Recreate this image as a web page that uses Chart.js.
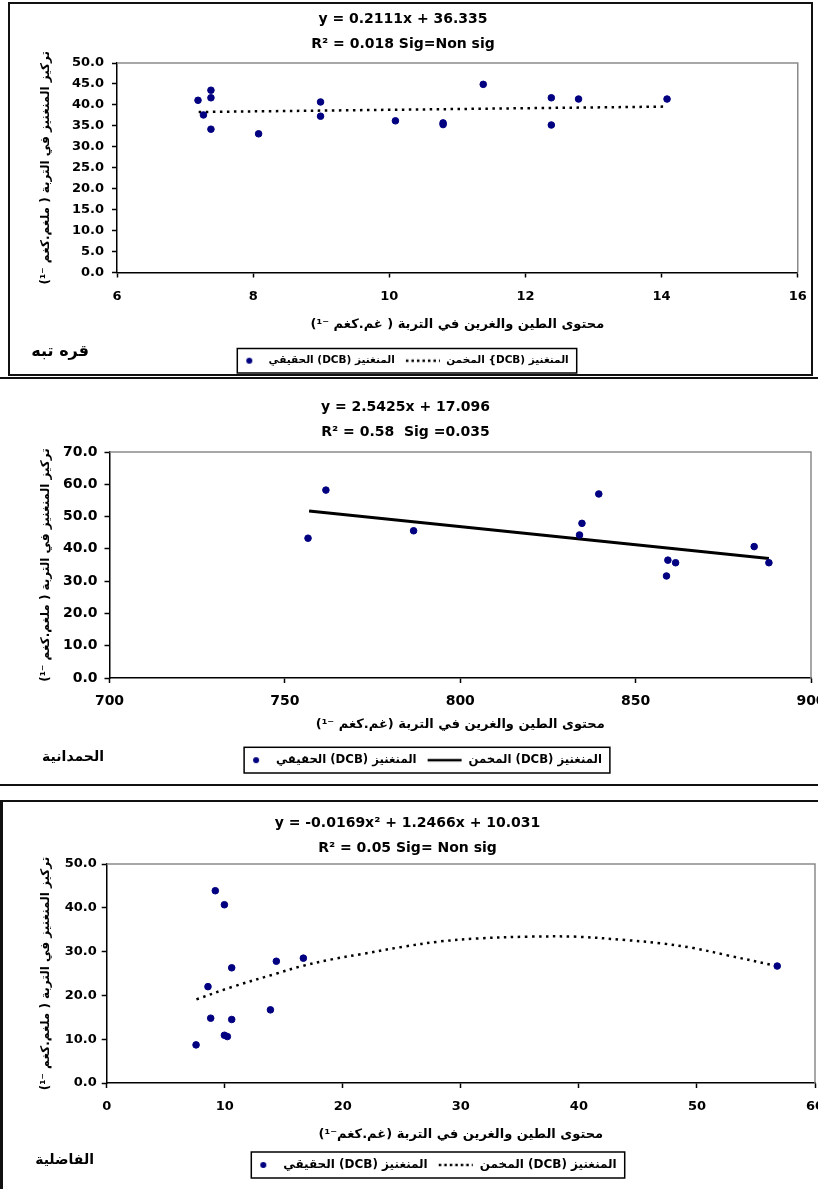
<!DOCTYPE html>
<html>
<head>
<meta charset="utf-8">
<script src="https://cdn.jsdelivr.net/npm/chart.js@4.4.0/dist/chart.umd.min.js"></script>
<style>
    html, body { margin: 0; padding: 0; background: #fff; }
    body { position: relative; width: 818px; height: 1189px; overflow: hidden; }
    canvas { position: absolute; left: 0; direction: rtl; }
    .frame { position: absolute; box-sizing: border-box; pointer-events: none; }
</style>
</head>
<body>
<canvas id="c1" width="818" height="378" style="top:0"></canvas>
<canvas id="c2" width="840" height="404" style="top:380px"></canvas>
<canvas id="c3" width="840" height="387" style="top:802px"></canvas>

<div class="frame" style="left:8px;top:2px;width:805px;height:374px;border:2px solid #111"></div>
<div class="frame" style="left:0;top:377px;width:818px;height:2px;background:#111"></div>
<div class="frame" style="left:0;top:784px;width:818px;height:2px;background:#111"></div>
<div class="frame" style="left:0;top:800px;width:830px;height:420px;border-top:2px solid #111;border-left:3px solid #111"></div>

<script>
// ---- data ----
// Qara Tabba
const qaraClay = [7.19, 7.27, 7.38, 7.38, 7.38, 8.08, 8.99, 8.99, 10.09, 10.79, 10.79, 11.38, 12.38, 12.38, 12.78, 14.08];
const qaraMn = [41.1, 37.6, 43.5, 41.7, 34.2, 33.1, 40.7, 37.3, 36.2, 35.7, 35.3, 44.9, 41.7, 35.2, 41.4, 41.4];
const qaraFitX = [7.2, 14.08];
const qaraFitY = [38.3, 39.6];
const qaraXAxis = [6, 16, 2];
const qaraYAxis = [0, 50, 5];

// Hamdaniya
const hamClay = [756.6, 761.7, 786.7, 834.0, 834.7, 839.5, 858.8, 859.2, 861.4, 883.8, 888.0];
const hamMn = [43.3, 58.2, 45.6, 44.3, 47.9, 57.0, 31.6, 36.5, 35.7, 40.7, 35.7];
const hamFitX = [756.9, 888.0];
const hamFitY = [51.7, 37.0];
const hamXAxis = [700, 900, 50];
const hamYAxis = [0, 70, 10];

// Fadhiliya
const fadClay = [7.57, 8.58, 8.81, 9.2, 9.97, 9.97, 10.22, 10.59, 10.59, 13.87, 14.37, 16.66, 56.8];
const fadMn = [8.7, 22.0, 14.8, 43.9, 40.7, 10.9, 10.6, 26.3, 14.5, 16.7, 27.8, 28.5, 26.7];
const fadFitX = [7.6, 10.7, 14.4, 16.4, 19.2, 21.5, 25.1, 28.2, 31.4, 35.6, 39.8, 44.1, 46.9, 49.7, 52.5, 56.8];
const fadFitY = [19.1, 22.0, 25.0, 26.6, 28.3, 29.4, 31.1, 32.3, 33.0, 33.4, 33.4, 32.6, 31.9, 30.8, 29.2, 26.7];
const fadXAxis = [0, 60, 10];
const fadYAxis = [0, 50, 10];

// texts
const yTitle = 'تركيز المنغنيز في التربة ( ملغم.كغم ⁻¹)';
const actualLabel = 'المنغنيز (DCB) الحقيقي';
const fittedLabel = 'المنغنيز (DCB) المخمن';

const FONT = '"DejaVu Sans", sans-serif';
const NAVY = '#000080';
const MARK_W = 36;   // width of the legend marker
const DOT_AT = 22;   // where the dot sits inside it

function pairs(xs, ys) {
    return xs.map((x, i) => ({ x: x, y: ys[i] }));
}

// small canvases used as legend markers
function marker(kind) {
    const c = document.createElement('canvas');
    c.width = MARK_W;
    c.height = 8;
    const g = c.getContext('2d');
    if (kind === 'dot') {
        g.fillStyle = NAVY;
        g.beginPath();
        g.arc(DOT_AT, 4, 3, 0, Math.PI * 2);
        g.fill();
    } else {
        g.strokeStyle = '#000';
        g.lineWidth = 2.5;
        g.setLineDash(kind === 'solid' ? [] : [2.5, 3]);
        g.beginPath();
        g.moveTo(1, 4);
        g.lineTo(MARK_W - 1, 4);
        g.stroke();
    }
    return c;
}

// gray frame on top/right of the plot area
const framePlugin = {
    id: 'frame',
    beforeDatasetsDraw(chart) {
        const { ctx, chartArea: a } = chart;
        ctx.save();
        ctx.strokeStyle = '#8a8a8a';
        ctx.lineWidth = 1.5;
        ctx.beginPath();
        ctx.moveTo(a.left, a.top);
        ctx.lineTo(a.right, a.top);
        ctx.lineTo(a.right, a.bottom);
        ctx.stroke();
        ctx.restore();
    }
};

// where the legend row (and its box) falls
function legendBox(chart) {
    const lg = chart.legend;
    const pad = lg.options.labels.padding;
    const rowW = lg.lineWidths[0];
    const x0 = (lg.left + pad + lg.right - rowW) / 2;
    return { left: x0 + DOT_AT - 12, right: x0 + rowW - pad + 8, top: lg.top + pad - 7 };
}

// moves the legend sideways, then boxes it and writes the site name
const legendBoxPlugin = {
    id: 'legendBox',
    afterLayout(chart, args, opts) {
        const b = legendBox(chart);
        const dx = opts.center - (b.left + b.right) / 2;
        chart.legend.left += dx;
        chart.legend.right += dx;
    },
    afterDraw(chart, args, opts) {
        const b = legendBox(chart);
        const size = chart.legend.options.labels.font.size;
        const ctx = chart.ctx;
        ctx.save();
        ctx.strokeStyle = '#000';
        ctx.lineWidth = 1.5;
        ctx.strokeRect(b.left, b.top, b.right - b.left, size + 14);
        ctx.fillStyle = '#000';
        ctx.font = 'bold ' + opts.siteSize + 'px ' + FONT;
        ctx.textAlign = 'right';
        ctx.textBaseline = 'middle';
        ctx.fillText(opts.site, opts.siteX, b.top + 7 + size / 2 + opts.siteDy);
        ctx.restore();
    }
};

function makePanel(id, cfg) {
    const tickFont = { family: FONT, size: cfg.tickSize, weight: 'bold' };
    return new Chart(document.getElementById(id), {
        type: 'scatter',
        data: {
            datasets: [
                {
                    label: actualLabel,
                    data: pairs(cfg.xs, cfg.ys),
                    backgroundColor: NAVY,
                    borderColor: NAVY,
                    pointRadius: 3.3,
                    pointHoverRadius: 3.3,
                    legendMarker: marker('dot')
                },
                {
                    type: 'line',
                    label: cfg.fitLabel,
                    data: pairs(cfg.fitX, cfg.fitY),
                    borderColor: '#000',
                    borderWidth: cfg.dashed ? 2.5 : 3,
                    borderDash: cfg.dashed ? [2.5, 4.5] : [],
                    pointRadius: 0,
                    tension: 0.35,
                    fill: false,
                    legendMarker: marker(cfg.dashed ? 'dotted' : 'solid')
                }
            ]
        },
        options: {
            responsive: false,
            animation: false,
            layout: { padding: { left: 0, right: cfg.padRight, top: 0, bottom: cfg.padBottom } },
            plugins: {
                title: {
                    display: true,
                    text: cfg.title,
                    color: '#000',
                    font: { family: FONT, size: 14, weight: 'bold', lineHeight: 25 / 14 },
                    padding: { top: cfg.titleTop, bottom: cfg.titleBottom }
                },
                legend: {
                    position: 'bottom',
                    labels: {
                        usePointStyle: true,
                        pointStyleWidth: MARK_W,
                        padding: 10,
                        color: '#000',
                        font: { family: FONT, size: cfg.legendSize, weight: 'bold' },
                        generateLabels: chart => chart.data.datasets.map((ds, i) => ({
                            text: ds.label,
                            pointStyle: ds.legendMarker,
                            datasetIndex: i,
                            fontColor: '#000',
                            fillStyle: 'transparent',
                            strokeStyle: 'transparent',
                            lineWidth: 0,
                            hidden: false
                        }))
                    }
                },
                tooltip: { enabled: false },
                legendBox: { site: cfg.site, siteX: cfg.siteX, siteDy: cfg.siteDy, siteSize: cfg.siteSize, center: cfg.legendCenter }
            },
            scales: {
                x: {
                    type: 'linear',
                    min: cfg.xAxis[0],
                    max: cfg.xAxis[1],
                    ticks: { stepSize: cfg.xAxis[2], color: '#000', font: tickFont, padding: cfg.xTickPad, maxRotation: 0, autoSkip: false },
                    grid: { drawOnChartArea: false, tickLength: 5, color: '#000', tickWidth: 1.5 },
                    border: { color: '#000', width: 1.5 },
                    title: {
                        display: true,
                        text: cfg.xTitle,
                        color: '#000',
                        font: { family: FONT, size: 13, weight: 'bold' },
                        padding: { top: 4, bottom: cfg.xTitleBottom }
                    },
                    afterFit: s => { s.height = cfg.xHeight; }
                },
                y: {
                    min: cfg.yAxis[0],
                    max: cfg.yAxis[1],
                    ticks: { stepSize: cfg.yAxis[2], color: '#000', font: tickFont, padding: cfg.yTickPad, callback: v => v.toFixed(1) },
                    grid: { drawOnChartArea: false, tickLength: 5, color: '#000', tickWidth: 1.5 },
                    border: { color: '#000', width: 1.5 },
                    title: {
                        display: true,
                        text: yTitle,
                        color: '#000',
                        font: { family: FONT, size: 12, weight: 'bold' },
                        padding: { top: 38.8, bottom: 0 }
                    },
                    afterFit: s => { s.width = cfg.yWidth; }
                }
            }
        },
        plugins: [framePlugin, legendBoxPlugin]
    });
}

makePanel('c1', {
    xs: qaraClay, ys: qaraMn, fitX: qaraFitX, fitY: qaraFitY, xAxis: qaraXAxis, yAxis: qaraYAxis,
    title: ['y = 0.2111x + 36.335', 'R² = 0.018 Sig=Non sig'],
    xTitle: 'محتوى الطين والغرين في التربة ( غم.كغم ⁻¹)',
    fitLabel: 'المنغنيز (DCB} المخمن',
    site: 'قره تبه', siteX: 89, siteDy: -9, siteSize: 16,
    legendSize: 10.5, legendCenter: 407,
    dashed: true, tickSize: 13,
    padRight: 12, padBottom: 2, titleTop: 7, titleBottom: 6,
    xHeight: 73, xTickPad: 11.2, xTitleBottom: 13.2, yWidth: 117, yTickPad: 8
});

makePanel('c2', {
    xs: hamClay, ys: hamMn, fitX: hamFitX, fitY: hamFitY, xAxis: hamXAxis, yAxis: hamYAxis,
    title: ['y = 2.5425x + 17.096', 'R² = 0.58  Sig =0.035'],
    xTitle: 'محتوى الطين والغرين في التربة (غم.كغم ⁻¹)',
    fitLabel: fittedLabel,
    site: 'الحمدانية', siteX: 104, siteDy: -3, siteSize: 14,
    legendSize: 11.7, legendCenter: 427,
    dashed: false, tickSize: 14,
    padRight: 29, padBottom: 8, titleTop: 15, titleBottom: 7,
    xHeight: 66.3, xTickPad: 10, xTitleBottom: 11.5, yWidth: 109.5, yTickPad: 7
});

makePanel('c3', {
    xs: fadClay, ys: fadMn, fitX: fadFitX, fitY: fadFitY, xAxis: fadXAxis, yAxis: fadYAxis,
    title: ['y = -0.0169x² + 1.2466x + 10.031', 'R² = 0.05 Sig= Non sig'],
    xTitle: 'محتوى الطين والغرين في التربة (غم.كغم⁻¹)',
    fitLabel: fittedLabel,
    site: 'الفاضلية', siteX: 94, siteDy: -5, siteSize: 14,
    legendSize: 12, legendCenter: 438,
    dashed: true, tickSize: 13,
    padRight: 25, padBottom: 8, titleTop: 9, titleBottom: 3,
    xHeight: 66, xTickPad: 11.2, xTitleBottom: 7, yWidth: 106.7, yTickPad: 5
});
</script>
</body>
</html>
